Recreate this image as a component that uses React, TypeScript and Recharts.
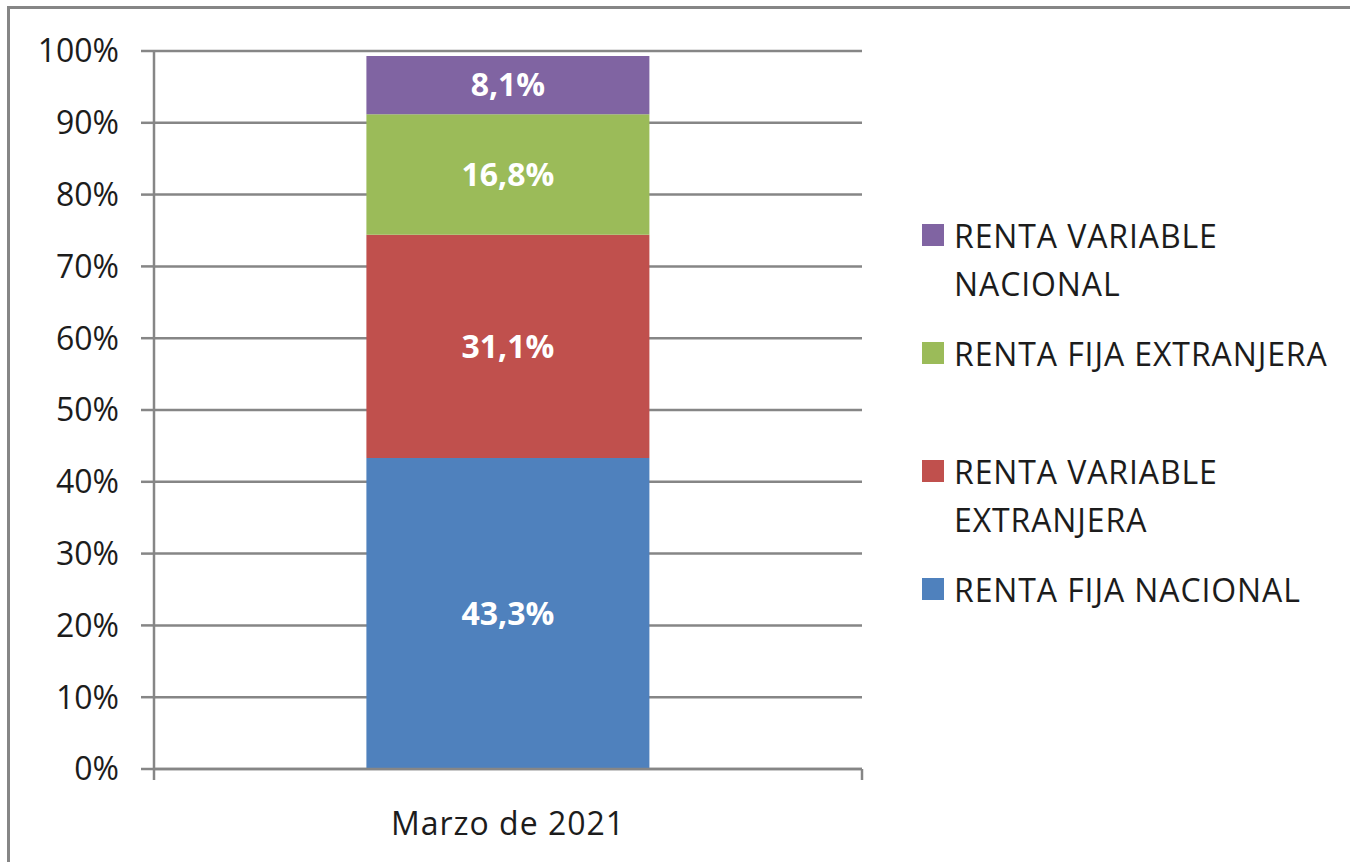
import { BarChart, Bar, XAxis, YAxis, CartesianGrid, Legend, LabelList } from "recharts";

const categories = ["Marzo de 2021"];
const seriesNames = [
  "RENTA FIJA NACIONAL",
  "RENTA VARIABLE EXTRANJERA",
  "RENTA FIJA EXTRANJERA",
  "RENTA VARIABLE NACIONAL",
];
const seriesValues = [[43.3], [31.1], [16.8], [8.1]];
const seriesColors = ["#4F81BD", "#C0504D", "#9BBB59", "#8064A2"];
const yTicks = [0, 10, 20, 30, 40, 50, 60, 70, 80, 90, 100];

const FONT = "'Open Sans', sans-serif";
const AXIS = "#868686";
const X_LABEL_GAP = 43;

const data = categories.map((category, i) => {
  const row: Record<string, string | number> = { category };
  seriesNames.forEach((_, j) => {
    row[`s${j}`] = seriesValues[j][i];
  });
  return row;
});

const fmt = (v: any) => `${Number(v).toFixed(1).replace(".", ",")}%`;

// category label plus Excel-style tick marks between categories (band edges)
function CategoryTick({ x, y, payload }: any) {
  const half = payload?.offset ?? 0;
  const axisY = y - X_LABEL_GAP;
  return (
    <g>
      {half > 0 && (
        <>
          <line x1={x - half} x2={x - half} y1={axisY} y2={axisY + 11} stroke={AXIS} strokeWidth={2.5} />
          <line x1={x + half} x2={x + half} y1={axisY} y2={axisY + 11} stroke={AXIS} strokeWidth={2.5} />
        </>
      )}
      <text x={x} y={y} dy="0.71em" textAnchor="middle" fill="#1c1c1c" fontSize={32} letterSpacing={1}>
        {payload.value}
      </text>
    </g>
  );
}

// legend lists the series top-down in stack order (last series first)
function LegendBox() {
  const items = seriesNames.map((name, j) => ({ name, color: seriesColors[j] })).reverse();
  return (
    <div style={{ fontFamily: FONT, fontSize: 32, letterSpacing: 0.9, color: "#1c1c1c", textAlign: "left" }}>
      {items.map((it) => (
        <div key={it.name} style={{ display: "flex", alignItems: "flex-start", height: 118 }}>
          <div
            style={{
              width: 22,
              height: 22,
              marginTop: 12,
              marginRight: 10,
              background: it.color,
              flex: "none",
            }}
          />
          <div style={{ lineHeight: "48px", width: 390 }}>{it.name}</div>
        </div>
      ))}
    </div>
  );
}

export default function App() {
  return (
    <div style={{ position: "absolute", left: 0, top: 0, width: 1350, height: 862, overflow: "hidden", background: "#fff" }}>
      <div
        style={{
          position: "absolute",
          left: 7,
          top: 6,
          width: 1400,
          height: 900,
          borderTop: `3px solid ${AXIS}`,
          borderLeft: `3px solid ${AXIS}`,
        }}
      />
      <div style={{ position: "absolute", left: 0, top: 0 }}>
        <BarChart
          width={1350}
          height={862}
          data={data}
          margin={{ top: 51, right: 488, bottom: 33, left: 0 }}
          barCategoryGap="30%"
          style={{ fontFamily: FONT }}
        >
          <CartesianGrid vertical={false} stroke={AXIS} strokeWidth={2.5} />
          <XAxis
            dataKey="category"
            height={60}
            tickLine={false}
            tickSize={0}
            tickMargin={X_LABEL_GAP}
            axisLine={{ stroke: AXIS, strokeWidth: 2.5 }}
            tick={<CategoryTick />}
          />
          <YAxis
            domain={[0, 100]}
            ticks={yTicks}
            width={154}
            tickSize={13}
            tickMargin={22}
            interval={0}
            tickFormatter={(v) => `${v}%`}
            axisLine={{ stroke: AXIS, strokeWidth: 2.5 }}
            tickLine={{ stroke: AXIS, strokeWidth: 2.5 }}
            tick={{ fill: "#1c1c1c", fontSize: 32 }}
          />
          <Legend
            layout="horizontal"
            verticalAlign="middle"
            align="center"
            content={<LegendBox />}
            wrapperStyle={{ position: "absolute", left: 922, top: 212, width: 428 }}
          />
          {seriesNames.map((name, j) => (
            <Bar
              key={name}
              dataKey={`s${j}`}
              name={name}
              stackId="a"
              fill={seriesColors[j]}
              isAnimationActive={false}
            >
              <LabelList
                dataKey={`s${j}`}
                position="center"
                formatter={fmt}
                fill="#ffffff"
                fontSize={32}
                fontWeight="bold"
              />
            </Bar>
          ))}
        </BarChart>
      </div>
    </div>
  );
}
